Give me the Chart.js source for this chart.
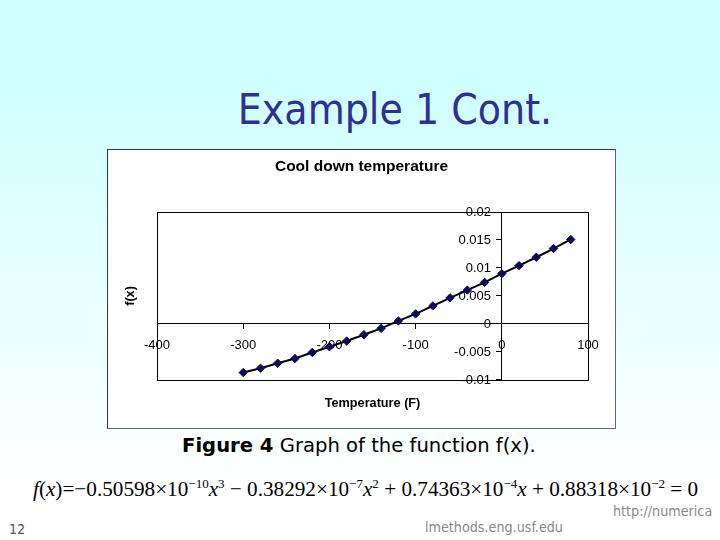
<!DOCTYPE html>
<html>
<head>
<meta charset="utf-8">
<script src="https://cdn.jsdelivr.net/npm/chart.js@4/dist/chart.umd.min.js"></script>
<style>
  html, body { margin: 0; padding: 0; }
  body {
    width: 720px; height: 540px; position: relative; overflow: hidden;
    background: linear-gradient(to bottom, #ccffff 0%, #ccffff 10%, #ffffff 90%);
    font-family: "DejaVu Sans", sans-serif;
  }
  #title {
    position: absolute; left: 0; width: 790px; top: 85px; text-align: center;
    font-family: "DejaVu Sans Condensed", "DejaVu Sans", sans-serif;
    font-size: 42.3px; color: #2e3192; white-space: nowrap;
  }
  #box {
    position: absolute; left: 107px; top: 149px; width: 507px; height: 278px;
    background: #fff; border: 1px solid #333; border-right-color: #666; border-bottom-color: #666;
  }
  #caption {
    position: absolute; left: 182px; top: 434px; font-size: 19.6px; color: #000;
    font-family: "DejaVu Sans", sans-serif; white-space: nowrap;
  }
  #eq {
    position: absolute; left: 33px; top: 477px; font-family: "Liberation Serif", serif;
    font-size: 21.2px; white-space: nowrap; color: #000;
  }
  #eq sup { font-size: 13px; vertical-align: 8px; line-height: 0; }
  .small { position: absolute; color: #888; font-size: 14.2px; font-family: "DejaVu Sans Condensed", sans-serif; white-space: nowrap; }
</style>
</head>
<body>
<div id="title">Example 1 Cont.</div>
<div id="box"><canvas id="c" width="507" height="278"></canvas></div>
<div id="caption"><b>Figure 4</b> Graph of the function f(x).</div>
<div id="eq"><i>f</i>(<i>x</i>)=&minus;0.50598&times;10<sup>&minus;10</sup><i>x</i><sup>3</sup> &minus; 0.38292&times;10<sup>&minus;7</sup><i>x</i><sup>2</sup> + 0.74363&times;10<sup>&minus;4</sup><i>x</i> + 0.88318&times;10<sup>&minus;2</sup> = 0</div>
<div class="small" style="left:9px; top:521px; color:#555;">12</div>
<div class="small" style="left:613px; top:503px;">http://numerica</div>
<div class="small" style="left:425px; top:519px;">lmethods.eng.usf.edu</div>
<script>
const temperatures = [-300, -280, -260, -240, -220, -200, -180, -160, -140, -120, -100, -80, -60, -40, -20, 0, 20, 40, 60, 80];
const fValues = [-0.00868, -0.00790, -0.00701, -0.00617, -0.00509, -0.00407, -0.00305, -0.00192, -0.00078, 0.00054, 0.00180, 0.00323, 0.00467, 0.00605, 0.00743, 0.00898, 0.01042, 0.01192, 0.01347, 0.01509];
const xTickValues = [-400, -300, -200, -100, 0, 100];
const yTickValues = [-0.01, -0.005, 0, 0.005, 0.01, 0.015, 0.02];
const chartTitle = 'Cool down temperature';
const xTitle = 'Temperature (F)';
const yTitle = 'f(x)';

const plotBorder = {
  id: 'plotBorder',
  beforeDatasetsDraw(chart) {
    const {ctx, chartArea: a} = chart;
    ctx.save();
    ctx.strokeStyle = '#000';
    ctx.lineWidth = 1;
    ctx.strokeRect(Math.round(a.left) + 0.5, Math.round(a.top) + 0.5, Math.round(a.right - a.left), Math.round(a.bottom - a.top));
    ctx.restore();
  }
};

const tickFont = {family: 'Liberation Sans, Arial, sans-serif', size: 13};
const axisTitleFont = {family: 'Liberation Sans, Arial, sans-serif', size: 12.7, weight: 'bold', lineHeight: 1.2};

new Chart(document.getElementById('c'), {
  type: 'line',
  data: {
    datasets: [{
      data: temperatures.map((t, i) => ({x: t, y: fValues[i]})),
      borderColor: '#000',
      borderWidth: 2,
      pointStyle: 'rectRot',
      pointRadius: 4.2,
      pointBackgroundColor: '#0b0b5a',
      pointBorderColor: '#0b0b5a',
      pointBorderWidth: 1,
      tension: 0
    }]
  },
  options: {
    responsive: false,
    animation: false,
    layout: {padding: 0},
    plugins: {
      legend: {display: false},
      tooltip: {enabled: false},
      title: {
        display: true, text: chartTitle, color: '#000',
        font: {family: 'Liberation Sans, Arial, sans-serif', size: 15.5, weight: 'bold', lineHeight: 1.2},
        padding: {top: 7.5, bottom: 35.9}
      }
    },
    scales: {
      x: {
        type: 'linear', min: -400, max: 100,
        position: {y: 0},
        afterBuildTicks: s => { s.ticks = xTickValues.map(v => ({value: v})); },
        ticks: {color: '#000', font: tickFont, padding: 9, maxRotation: 0, callback: v => String(v)},
        grid: {display: true, drawOnChartArea: false, drawTicks: true, tickLength: 5, color: '#000'},
        border: {display: true, color: '#000', width: 1}
      },
      y: {
        type: 'linear', min: -0.01, max: 0.02,
        position: {x: 0},
        afterBuildTicks: s => { s.ticks = yTickValues.map(v => ({value: v})); },
        ticks: {color: '#000', font: tickFont, callback: v => String(Number(v.toFixed(3))) + '   '},
        grid: {display: true, drawOnChartArea: false, drawTicks: true, tickLength: 5, color: '#000'},
        border: {display: true, color: '#000', width: 1}
      },
      x2: {
        type: 'linear', min: -400, max: 100, position: 'bottom',
        ticks: {display: false}, grid: {display: false, drawTicks: false}, border: {display: false},
        title: {display: true, text: xTitle, color: '#000', font: axisTitleFont,
          padding: {top: 16.4, bottom: 16.4}}
      },
      y2: {
        type: 'linear', min: -0.01, max: 0.02, position: 'left',
        ticks: {display: false}, grid: {display: false, drawTicks: false}, border: {display: false},
        title: {display: true, text: yTitle, color: '#000', font: axisTitleFont,
          padding: {top: 14.4, bottom: 19.4}}
      },
      y3: {
        type: 'linear', min: -0.01, max: 0.02, position: 'right',
        ticks: {display: false}, grid: {display: false, drawTicks: false}, border: {display: false},
        title: {display: true, text: '', font: {size: 10, lineHeight: 1.2}, padding: {top: 7.5, bottom: 7.5}}
      }
    }
  },
  plugins: [plotBorder]
});
</script>
</body>
</html>
